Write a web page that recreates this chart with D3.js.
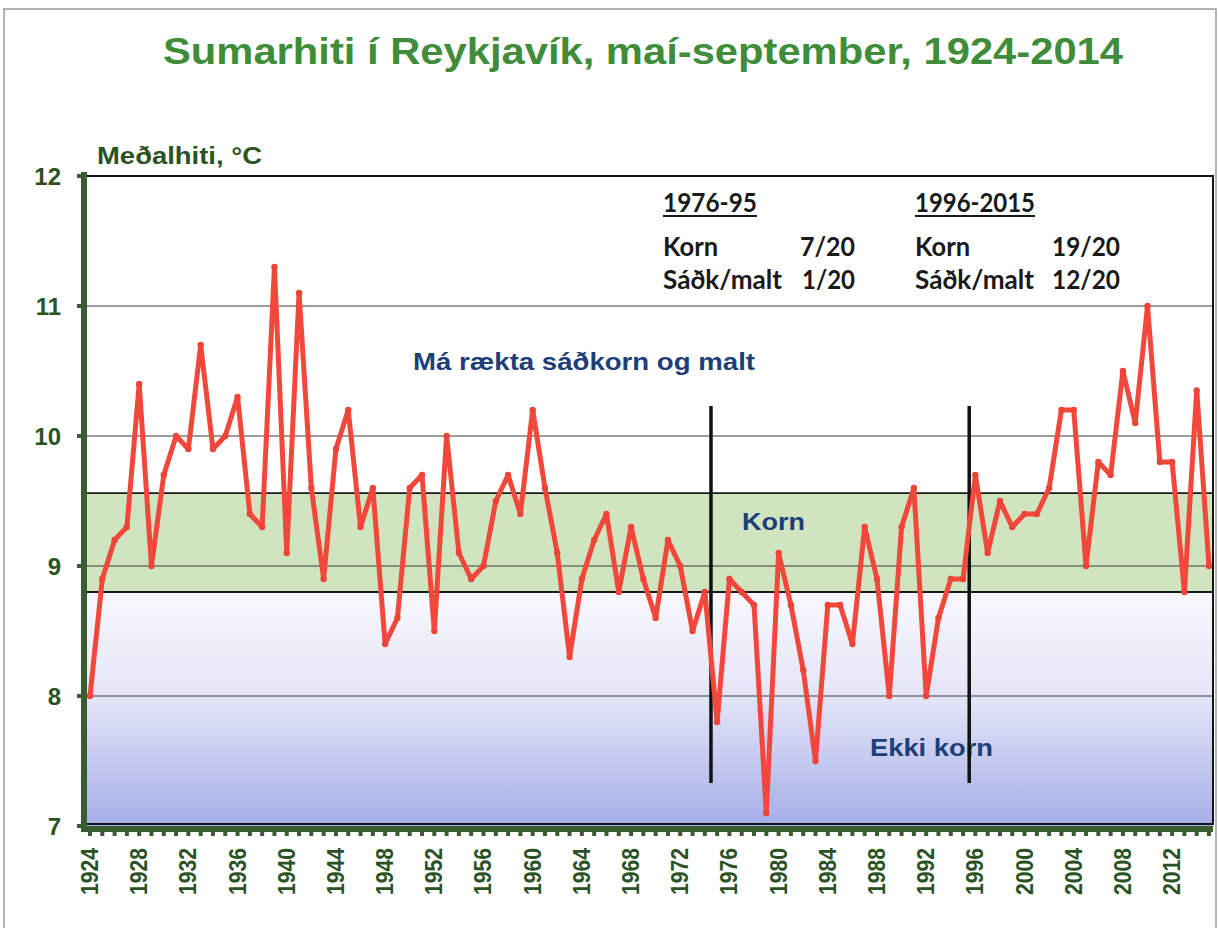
<!DOCTYPE html>
<html lang="is">
<head>
    <meta charset="UTF-8">
    <title>Sumarhiti í Reykjavík</title>
    <script src="https://d3js.org/d3.v7.min.js"></script>
    <style>
        body { margin: 0; background: #fff; }
        text { font-family: "Liberation Sans", Arial, sans-serif; }
        .box text { font-family: Lato, "Open Sans", sans-serif; fill: #1a1a1a; }
    </style>
</head>
<body>
    <div id="chart"></div>

    <script>
        // Meðalhiti maí-september, Reykjavík
        const firstYear = 1924;
        const temps = [
            8.0, 8.9, 9.2, 9.3, 10.4, 9.0, 9.7, 10.0, 9.9, 10.7,   // 1924-1933
            9.9, 10.0, 10.3, 9.4, 9.3, 11.3, 9.1, 11.1, 9.6, 8.9,  // 1934-1943
            9.9, 10.2, 9.3, 9.6, 8.4, 8.6, 9.6, 9.7, 8.5, 10.0,    // 1944-1953
            9.1, 8.9, 9.0, 9.5, 9.7, 9.4, 10.2, 9.6, 9.1, 8.3,     // 1954-1963
            8.9, 9.2, 9.4, 8.8, 9.3, 8.9, 8.6, 9.2, 9.0, 8.5,      // 1964-1973
            8.8, 7.8, 8.9, 8.8, 8.7, 7.1, 9.1, 8.7, 8.2, 7.5,      // 1974-1983
            8.7, 8.7, 8.4, 9.3, 8.9, 8.0, 9.3, 9.6, 8.0, 8.6,      // 1984-1993
            8.9, 8.9, 9.7, 9.1, 9.5, 9.3, 9.4, 9.4, 9.6, 10.2,     // 1994-2003
            10.2, 9.0, 9.8, 9.7, 10.5, 10.1, 11.0, 9.8, 9.8, 8.8,  // 2004-2013
            10.35, 9.0                                             // 2014-2015
        ];
        const years = temps.map((t, i) => firstYear + i);
        const yearTicks = d3.range(1924, 2013, 4);
        const tempTicks = [7, 8, 9, 10, 11, 12];

        // korn band limits, period separators
        const kornBand = [8.8, 9.56];
        const periodBreaks = [1974.5, 1995.5];
        const breakRange = [7.33, 10.23];

        const periods = ["1976-95", "1996-2015"];
        const kornShare = ["7/20", "19/20"];
        const maltShare = ["1/20", "12/20"];

        const width = 1218, height = 928;
        const pLeft = 87, pRight = 1213, pTop = 176, pBottom = 826;

        const x = d3.scaleLinear().domain([1924, 2015]).range([90, 1209]);
        const y = d3.scaleLinear().domain([7, 12]).range([pBottom, pTop]);

        const svg = d3.select("#chart").append("svg")
            .attr("width", width)
            .attr("height", height);

        // outer frame of the slide
        svg.append("path")
            .attr("d", "M4,928 V9 H1216 V928")
            .attr("fill", "none")
            .attr("stroke", "#9a9a9a")
            .attr("stroke-width", 1.5);

        const defs = svg.append("defs");
        const grad = defs.append("linearGradient")
            .attr("id", "lowGrad")
            .attr("x1", 0).attr("y1", 0).attr("x2", 0).attr("y2", 1);
        grad.append("stop").attr("offset", "0%").attr("stop-color", "#f8f8fd");
        grad.append("stop").attr("offset", "45%").attr("stop-color", "#e3e5f7");
        grad.append("stop").attr("offset", "100%").attr("stop-color", "#a6ade8");

        // background zones
        svg.append("rect")
            .attr("x", pLeft).attr("y", y(kornBand[0]))
            .attr("width", pRight - pLeft).attr("height", y(7) - y(kornBand[0]))
            .attr("fill", "url(#lowGrad)");
        svg.append("rect")
            .attr("x", pLeft).attr("y", y(kornBand[1]))
            .attr("width", pRight - pLeft).attr("height", y(kornBand[0]) - y(kornBand[1]))
            .attr("fill", "#cfe4bf");

        // gridlines
        svg.selectAll(".grid")
            .data([8, 9, 10, 11])
            .enter().append("line")
            .attr("class", "grid")
            .attr("x1", pLeft).attr("x2", pRight)
            .attr("y1", d => y(d)).attr("y2", d => y(d))
            .attr("stroke", "#3a3a3a")
            .attr("stroke-width", 1);

        svg.selectAll(".band")
            .data(kornBand)
            .enter().append("line")
            .attr("class", "band")
            .attr("x1", pLeft).attr("x2", pRight)
            .attr("y1", d => y(d)).attr("y2", d => y(d))
            .attr("stroke", "#1a1a1a")
            .attr("stroke-width", 1.8);

        // plot border (top / right / bottom inner)
        svg.append("path")
            .attr("d", "M" + pLeft + "," + pTop + " H" + pRight + " V" + (pBottom - 2) + " H" + pLeft)
            .attr("fill", "none")
            .attr("stroke", "#151515")
            .attr("stroke-width", 2);

        // zone labels
        const zoneLabels = [
            {t: "Má rækta sáðkorn og malt", x: 413, y: 370, w: 342},
            {t: "Korn", x: 742, y: 530, w: 63},
            {t: "Ekki korn", x: 870, y: 756, w: 123}
        ];
        svg.selectAll(".zone")
            .data(zoneLabels)
            .enter().append("text")
            .attr("class", "zone")
            .attr("x", d => d.x).attr("y", d => d.y)
            .attr("textLength", d => d.w)
            .attr("lengthAdjust", "spacingAndGlyphs")
            .attr("font-size", 24)
            .attr("font-weight", "bold")
            .attr("fill", "#1d3f77")
            .text(d => d.t);

        // period separators
        svg.selectAll(".brk")
            .data(periodBreaks)
            .enter().append("line")
            .attr("class", "brk")
            .attr("x1", d => x(d)).attr("x2", d => x(d))
            .attr("y1", y(breakRange[1])).attr("y2", y(breakRange[0]))
            .attr("stroke", "#111")
            .attr("stroke-width", 3.5);

        // temperature line
        const line = d3.line()
            .x((d, i) => x(years[i]))
            .y(d => y(d));

        svg.append("path")
            .datum(temps)
            .attr("d", line)
            .attr("fill", "none")
            .attr("stroke", "#f2483b")
            .attr("stroke-width", 5)
            .attr("stroke-linejoin", "round");

        svg.selectAll(".pt")
            .data(temps)
            .enter().append("circle")
            .attr("class", "pt")
            .attr("cx", (d, i) => x(years[i]))
            .attr("cy", d => y(d))
            .attr("r", 3.2)
            .attr("fill", "#ee4437");

        // y axis
        const axisCol = "#3a5c32";
        svg.append("line")
            .attr("x1", pLeft - 3).attr("x2", pLeft - 3)
            .attr("y1", pTop - 4).attr("y2", pBottom + 5)
            .attr("stroke", axisCol).attr("stroke-width", 6);
        svg.selectAll(".ytick")
            .data(tempTicks)
            .enter().append("line")
            .attr("class", "ytick")
            .attr("x1", pLeft - 10).attr("x2", pLeft)
            .attr("y1", d => y(d)).attr("y2", d => y(d))
            .attr("stroke", axisCol).attr("stroke-width", 4);
        svg.selectAll(".ylab")
            .data(tempTicks)
            .enter().append("text")
            .attr("class", "ylab")
            .attr("x", 61).attr("y", d => y(d) + 9)
            .attr("text-anchor", "end")
            .attr("font-size", 24)
            .attr("font-weight", "bold")
            .attr("fill", "#2b5225")
            .text(d => d);

        // x axis
        svg.append("line")
            .attr("x1", pLeft - 6).attr("x2", pRight)
            .attr("y1", pBottom + 3).attr("y2", pBottom + 3)
            .attr("stroke", axisCol).attr("stroke-width", 6);
        svg.selectAll(".xtick")
            .data(years)
            .enter().append("line")
            .attr("class", "xtick")
            .attr("x1", d => x(d)).attr("x2", d => x(d))
            .attr("y1", pBottom + 3).attr("y2", pBottom + 10)
            .attr("stroke", axisCol).attr("stroke-width", 4);
        svg.selectAll(".xlab")
            .data(yearTicks)
            .enter().append("text")
            .attr("class", "xlab")
            .attr("transform", d => "translate(" + (x(d) + 8) + ",848) rotate(-90)")
            .attr("text-anchor", "end")
            .attr("font-size", 23)
            .attr("textLength", 47)
            .attr("lengthAdjust", "spacingAndGlyphs")
            .attr("font-weight", "bold")
            .attr("fill", "#2b5225")
            .text(d => d);

        // title and y label
        svg.append("text")
            .attr("x", 163).attr("y", 64)
            .attr("textLength", 960)
            .attr("lengthAdjust", "spacingAndGlyphs")
            .attr("font-size", 37)
            .attr("font-weight", "bold")
            .attr("fill", "#3f8d3a")
            .text("Sumarhiti í Reykjavík, maí-september, 1924-2014");

        svg.append("text")
            .attr("x", 97).attr("y", 164)
            .attr("textLength", 165)
            .attr("lengthAdjust", "spacingAndGlyphs")
            .attr("font-size", 24)
            .attr("font-weight", "bold")
            .attr("fill", "#2b5225")
            .text("Meðalhiti, °C");

        // period summary box
        const box = svg.append("g").attr("class", "box");
        const cols = [663, 915];
        const valRight = [855, 1120];
        periods.forEach((p, i) => {
            box.append("text")
                .attr("x", cols[i]).attr("y", 212)
                .attr("font-size", 27)
                .attr("font-weight", "bold")
                .attr("textLength", i === 0 ? 94 : 120)
                .attr("lengthAdjust", "spacingAndGlyphs")
                .text(p);
            box.append("line")
                .attr("x1", cols[i]).attr("x2", cols[i] + (i === 0 ? 94 : 120))
                .attr("y1", 216).attr("y2", 216)
                .attr("stroke", "#1a1a1a").attr("stroke-width", 1.8);

            box.append("text")
                .attr("x", cols[i]).attr("y", 256)
                .attr("font-size", 27)
                .attr("font-weight", "bold")
                .attr("textLength", 55)
                .attr("lengthAdjust", "spacingAndGlyphs")
                .text("Korn");
            box.append("text")
                .attr("x", cols[i]).attr("y", 289)
                .attr("font-size", 27)
                .attr("font-weight", "bold")
                .attr("textLength", 119)
                .attr("lengthAdjust", "spacingAndGlyphs")
                .text("Sáðk/malt");
            box.append("text")
                .attr("x", valRight[i]).attr("y", 256)
                .attr("text-anchor", "end")
                .attr("font-size", 27)
                .attr("font-weight", "bold")
                .attr("textLength", i === 0 ? 55 : 68)
                .attr("lengthAdjust", "spacingAndGlyphs")
                .text(kornShare[i]);
            box.append("text")
                .attr("x", valRight[i]).attr("y", 289)
                .attr("text-anchor", "end")
                .attr("font-size", 27)
                .attr("font-weight", "bold")
                .attr("textLength", i === 0 ? 53 : 68)
                .attr("lengthAdjust", "spacingAndGlyphs")
                .text(maltShare[i]);
        });
    </script>
</body>
</html>
